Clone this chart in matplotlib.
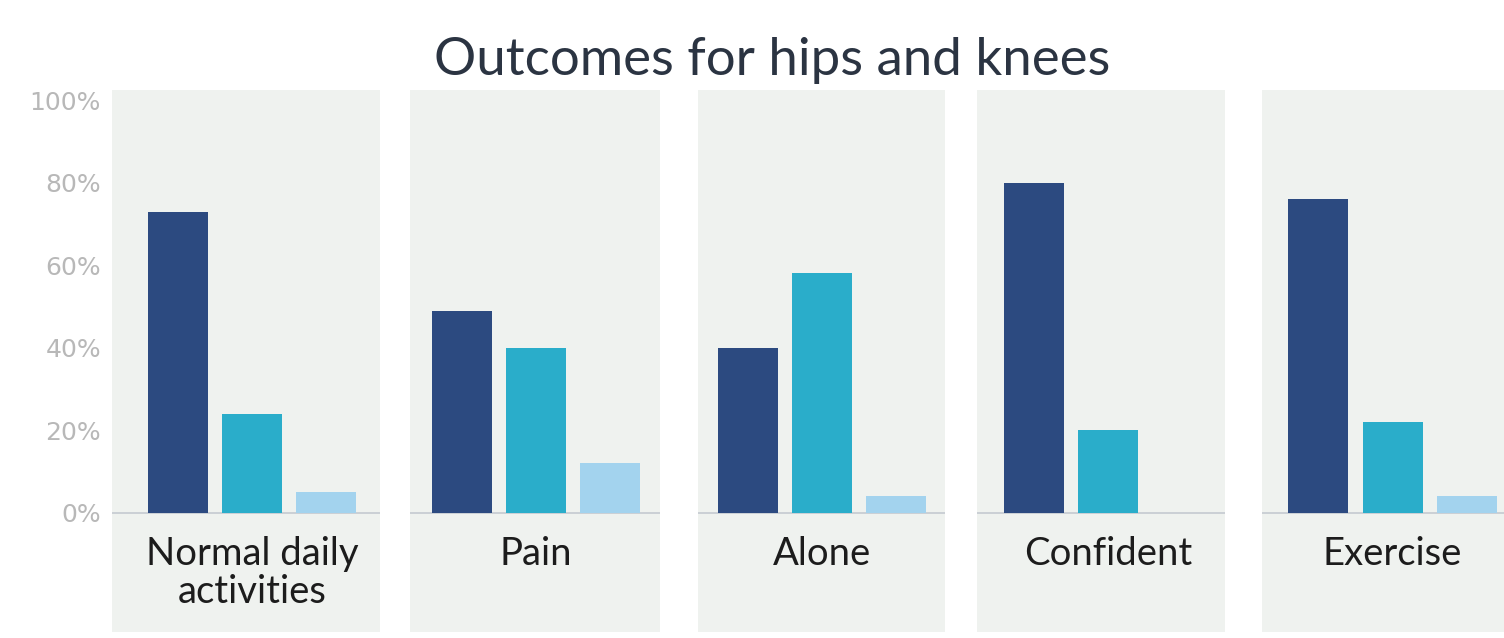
import matplotlib
matplotlib.use("Agg")
import matplotlib.pyplot as plt
from matplotlib.ticker import FuncFormatter

plt.rcParams['font.family'] = ['Lato', 'DejaVu Sans']

# ---- data ----
categories = ["Normal daily\nactivities", "Pain", "Alone", "Confident", "Exercise"]
series_dark = [73, 49, 40, 80, 76]
series_teal = [24, 40, 58, 20, 22]
series_light = [5, 12, 4, 0, 4]
ytick_values = [0, 20, 40, 60, 80, 100]
title = "Outcomes for hips and knees"

colors = ["#2c4a80", "#2aadca", "#a3d3ee"]
panel_bg = "#eff2ef"

W, H = 1504, 638
fig = plt.figure(figsize=(W / 100, H / 100), dpi=100)
fig.patch.set_facecolor("white")

# panel pixel extents (left, right) and x-limits so bars line up
panels_px = [(112, 380), (410, 660), (698, 945), (977, 1225), (1262, 1504)]
xlims = [(-0.89, 2.73), (-0.70, 2.68), (-0.68, 2.66), (-0.77, 2.58), (-0.76, 2.50)]
top_px, bot_px = 90, 632
# y-scale: 0 at px 513, 100 at px 100
per_px = 100 / (513 - 100)
ylo = -(bot_px - 513) * per_px
yhi = 100 + (100 - top_px) * per_px

for i, cat in enumerate(categories):
    l, r = panels_px[i]
    ax = fig.add_axes([l / W, 1 - bot_px / H, (r - l) / W, (bot_px - top_px) / H])
    ax.set_facecolor(panel_bg)
    vals = [series_dark[i], series_teal[i], series_light[i]]
    ax.bar(range(3), vals, width=0.81, color=colors, zorder=3)
    ax.axhline(0, color="#c4cad0", lw=1.2, zorder=2)
    ax.set_xlim(*xlims[i])
    ax.set_ylim(ylo, yhi)
    for s in ax.spines.values():
        s.set_visible(False)
    ax.set_xticks([])
    ax.text(1, -5.6, cat, ha="center", va="top", fontsize=27.5,
            color="#1c1c1c", linespacing=1.05)
    if i == 0:
        ax.set_yticks(ytick_values)
        ax.yaxis.set_major_formatter(FuncFormatter(lambda v, p: f"{int(v)}%"))
        ax.tick_params(axis="y", length=0, pad=8, labelsize=18, labelcolor="#b8b8b8")
        for lab in ax.get_yticklabels():
            lab.set_fontfamily("DejaVu Sans")
    else:
        ax.set_yticks([])

fig.text(772 / W, 1 - 61 / H, title, ha="center", va="center", fontsize=38, color="#2b3442")

fig.savefig("out.png", dpi=100, facecolor="white")
